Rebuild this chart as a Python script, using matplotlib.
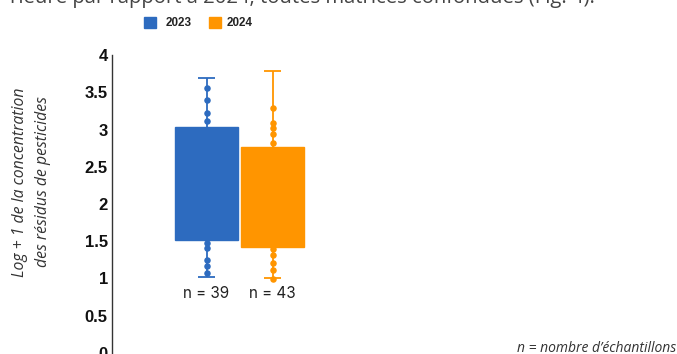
import matplotlib.pyplot as plt
from matplotlib.patches import Rectangle
import numpy as np

years = ['2023', '2024']
counts = [39, 43]
colors = ['#2d6bbf', '#ff9500']

q1 = [1.52, 1.42]
q3 = [3.03, 2.77]
whisk_lo = [1.02, 1.01]
whisk_hi = [3.69, 3.78]
outliers = [
    [3.56, 3.39, 3.22, 3.11, 1.48, 1.41, 1.25, 1.17, 1.08],
    [3.29, 3.09, 3.02, 2.94, 2.82, 1.40, 1.32, 1.21, 1.11, 1.00],
]
yticks = [0, 0.5, 1, 1.5, 2, 2.5, 3, 3.5, 4]
ytick_labels = ['0', '0.5', '1', '1.5', '2', '2.5', '3', '3.5', '4']

W, H = 677, 354
fig = plt.figure(figsize=(W / 100, H / 100), dpi=100)
# axes: left spine at x=112px, y=0 at ~353px, y=4 at ~55px
ax = fig.add_axes([112 / W, 1 - 353 / H, (W - 112) / W, (353 - 55) / H])
ax.set_ylim(0, 4)
xpos = np.array([0, 1])
ax.set_xlim(-(206.5 - 112) / 66, (677 - 206.5) / 66)

for i in range(2):
    c = colors[i]
    x = xpos[i]
    ax.vlines(x, whisk_lo[i], whisk_hi[i], color=c, lw=1.3, zorder=1)
    ax.hlines([whisk_lo[i], whisk_hi[i]], x - 0.13, x + 0.13, color=c, lw=1.3, zorder=1)
    ax.add_patch(Rectangle((x - 0.47, q1[i]), 0.94, q3[i] - q1[i], color=c, zorder=2))
    ax.scatter([x] * len(outliers[i]), outliers[i], s=22, color=c, zorder=3, lw=0)
    ax.text(x, 0.8, f'n = {counts[i]}', ha='center', va='center', fontsize=11,
            color='#222222', family='Inter')

ax.set_yticks(yticks)
ax.set_yticklabels(ytick_labels, fontsize=12, fontweight='bold', family='Liberation Sans',
                   color='#111111')
ax.tick_params(axis='y', length=0, pad=3)
ax.set_xticks([])
for s in ['top', 'right', 'bottom']:
    ax.spines[s].set_visible(False)
ax.spines['left'].set_color('#333333')
ax.spines['left'].set_linewidth(1.0)
ax.patch.set_alpha(0)

fig.text(31.5 / W, 1 - 182 / H, 'Log + 1 de la concentration\ndes résidus de pesticides',
         rotation=90, ha='center', va='center', style='italic', fontsize=11.3,
         color='#333333', family='Open Sans', linespacing=1.6)

# legend
for i, (lx, tx) in enumerate([(144, 165.5), (209, 226.5)]):
    fig.patches.append(Rectangle((lx / W, 1 - 27.7 / H), 11.7 / W, 11 / H, color=colors[i],
                                 transform=fig.transFigure, figure=fig))
    fig.text(tx / W, 1 - 22.5 / H, years[i], ha='left', va='center', fontsize=8.4,
             fontweight='bold', family='Liberation Sans', color='#222222')

fig.text(10 / W, 1 - 3.5 / H, 'rieure par rapport à 2024, toutes matrices confondues (Fig. 4).',
         ha='left', va='baseline', fontsize=14.6, family='Open Sans', color='#444444')

fig.text(676 / W, 1 - 348 / H, 'n = nombre d’échantillons', ha='right', va='center',
         style='italic', fontsize=10, family='Open Sans', color='#333333')

fig.savefig('out.png', dpi=100)
